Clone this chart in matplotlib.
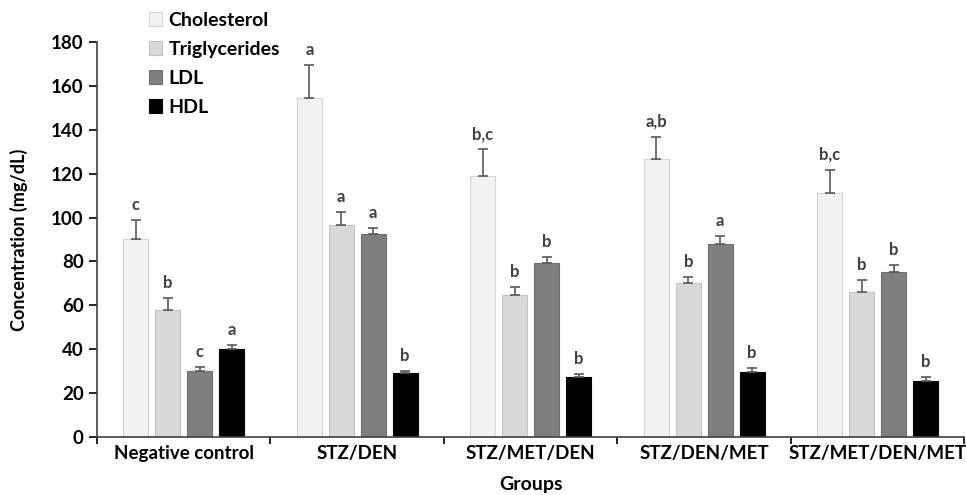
import matplotlib.pyplot as plt
import numpy as np

groups = ["Negative control", "STZ/DEN", "STZ/MET/DEN", "STZ/DEN/MET", "STZ/MET/DEN/MET"]
series = ["Cholesterol", "Triglycerides", "LDL", "HDL"]

cholesterol = [90, 154.5, 119, 126.5, 111]
triglycerides = [58, 96.5, 64.7, 70, 66]
ldl = [30, 92.5, 79.5, 88, 75.3]
hdl = [40, 29, 27.5, 29.7, 25.7]

chol_err = [8.7, 15, 12.2, 10.3, 10.8]
trig_err = [5.4, 6, 3.5, 3, 5.4]
ldl_err = [2, 2.8, 2.6, 3.7, 3]
hdl_err = [2, 1.1, 1.4, 1.8, 1.8]

chol_sig = ["c", "a", "b,c", "a,b", "b,c"]
trig_sig = ["b", "a", "b", "b", "b"]
ldl_sig = ["c", "a", "b", "a", "b"]
hdl_sig = ["a", "b", "b", "b", "b"]

values = [cholesterol, triglycerides, ldl, hdl]
errors = [chol_err, trig_err, ldl_err, hdl_err]
letters = [chol_sig, trig_sig, ldl_sig, hdl_sig]

colors = ["#f2f2f2", "#d9d9d9", "#7f7f7f", "#000000"]
edges = ["#d4d4d4", "#c4c4c4", "#6e6e6e", "#000000"]

plt.rcParams["font.family"] = ["Lato", "DejaVu Sans"]
plt.rcParams["font.weight"] = "bold"

fig = plt.figure(figsize=(9.66, 4.95), dpi=100)
ax = fig.add_axes([0.1004, 0.1172, 0.898, 0.798])

x = np.arange(len(groups)) + 0.5
step = 0.184
width = 0.144

handles = []
for i, name in enumerate(series):
    pos = x + (i - 1.5) * step
    b = ax.bar(pos, values[i], width, color=colors[i], edgecolor=edges[i],
               linewidth=0.8, label=name, zorder=2)
    handles.append(b)
    ax.errorbar(pos, values[i], yerr=[np.zeros(len(groups)), errors[i]],
                fmt="none", ecolor="#595959", elinewidth=1.2, capsize=3.5,
                capthick=1.2, zorder=3)
    for p, v, e, t in zip(pos, values[i], errors[i], letters[i]):
        ax.annotate(t, (p, v + e), xytext=(0, 5), textcoords="offset points",
                    ha="center", va="bottom", fontsize=12, fontweight="bold",
                    color="#404040")

ax.set_xlim(0, len(groups))
ax.set_ylim(0, 180)
ax.set_yticks(np.arange(0, 181, 20))
ax.tick_params(axis="y", labelsize=13.5, length=6, width=1.2, direction="out")
ax.set_xticks(np.arange(0, len(groups) + 1))
ax.set_xticklabels([])
ax.tick_params(axis="x", which="major", length=5, width=1.2, direction="out")
ax.set_xticks(x, minor=True)
ax.set_xticklabels(groups, minor=True, fontsize=13.5, fontweight="bold")
ax.tick_params(axis="x", which="minor", length=0, pad=6)

for s in ["top", "right"]:
    ax.spines[s].set_visible(False)
ax.spines["left"].set_color("#404040")
ax.spines["bottom"].set_color("#404040")
ax.spines["left"].set_linewidth(1.2)
ax.spines["bottom"].set_linewidth(1.2)

ax.set_ylabel("Concentration (mg/dL)", fontsize=13, fontweight="bold", labelpad=17)
ax.set_xlabel("Groups", fontsize=14, fontweight="bold", labelpad=10)

fig.legend(handles=handles, loc="upper left", bbox_to_anchor=(0.136, 1.012),
           frameon=False, handlelength=0.7, handleheight=0.7,
           handletextpad=0.3, labelspacing=0.62, prop={"weight": "bold", "size": 14})

fig.savefig("out.png", dpi=100)
